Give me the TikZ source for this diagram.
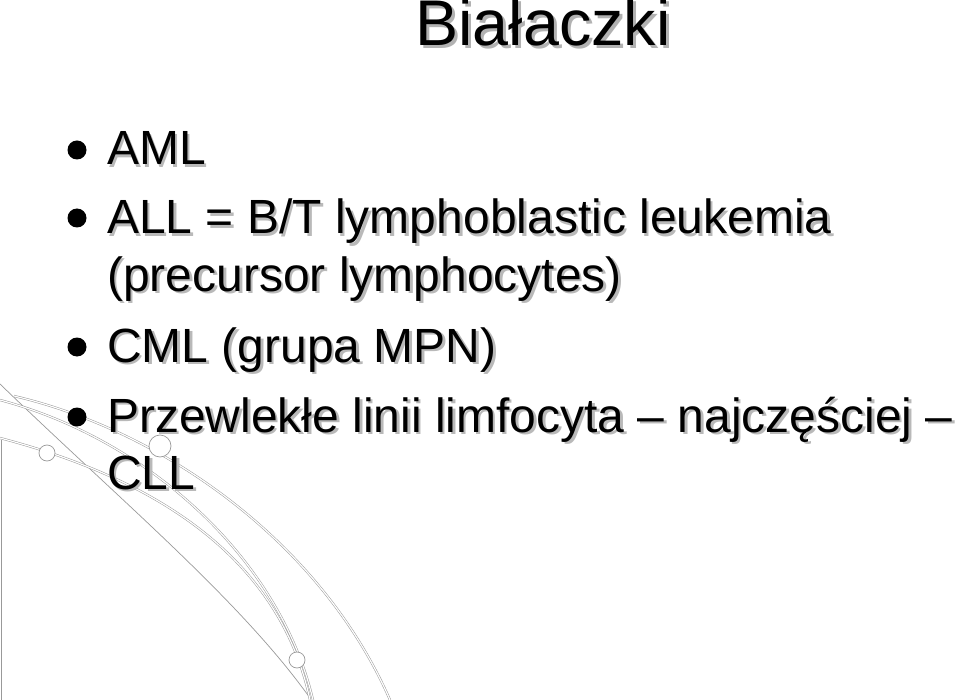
\documentclass[tikz,border=0pt]{standalone}
\usepackage{fontspec}
\setmainfont{Liberation Sans}
\begin{document}
\begin{tikzpicture}[x=1pt,y=-1pt,
  dl/.style={draw=gray!80,double=white,double distance=1.2pt,line width=0.5pt},
  sl/.style={draw=gray!80,line width=0.7pt},
  ring/.style={circle,draw=gray!80,fill=white,line width=0.7pt,inner sep=0pt},
  txt/.style={anchor=base west,inner sep=0pt,font=\fontsize{48}{50}\selectfont},
  bul/.style={circle,fill=black,inner sep=0pt,minimum size=19pt}]
\useasboundingbox (0,0) rectangle (960,700);
% decorative curves
\draw[sl] (1,440) -- (1,700);
\draw[sl] (0,384) .. controls (120,500) and (240,600) .. (310,698);
\draw[dl] (14,396) .. controls (160,430) and (320,540) .. (390,700);
\draw[dl] (0,400) .. controls (150,440) and (280,560) .. (313,700);
\draw[dl] (0,438) .. controls (160,480) and (280,560) .. (310,700);
\node[ring,minimum size=22pt] (r1) at (160,446) {};
\node[ring,minimum size=16pt] (r2) at (297,660) {};
\node[ring,minimum size=16pt] (r3) at (47,453) {};
% title
\node[anchor=base,inner sep=0pt,font=\fontsize{64.6}{66}\selectfont,text=gray!60] (ts) at (546,49) {Białaczki};
\node[anchor=base,inner sep=0pt,font=\fontsize{64.6}{66}\selectfont] (t) at (543,46) {Białaczki};
% bullets
\foreach \y/\s [count=\i] in {165/AML,234/{ALL = B/T lymphoblastic leukemia},291/{(precursor lymphocytes)},362/{CML (grupa MPN)},432/{Przewlekłe linii limfocyta – najczęściej –},489/{CLL}}{
  \node[txt,text=gray!55] (s\i) at (109.5,\y+2.5) {\s};
  \node[txt] (l\i) at (107,\y) {\s};
}
\foreach \y [count=\i] in {150,218,347,417}{
  \node[bul] (b\i) at (77,\y) {};
}
\end{tikzpicture}
\end{document}
